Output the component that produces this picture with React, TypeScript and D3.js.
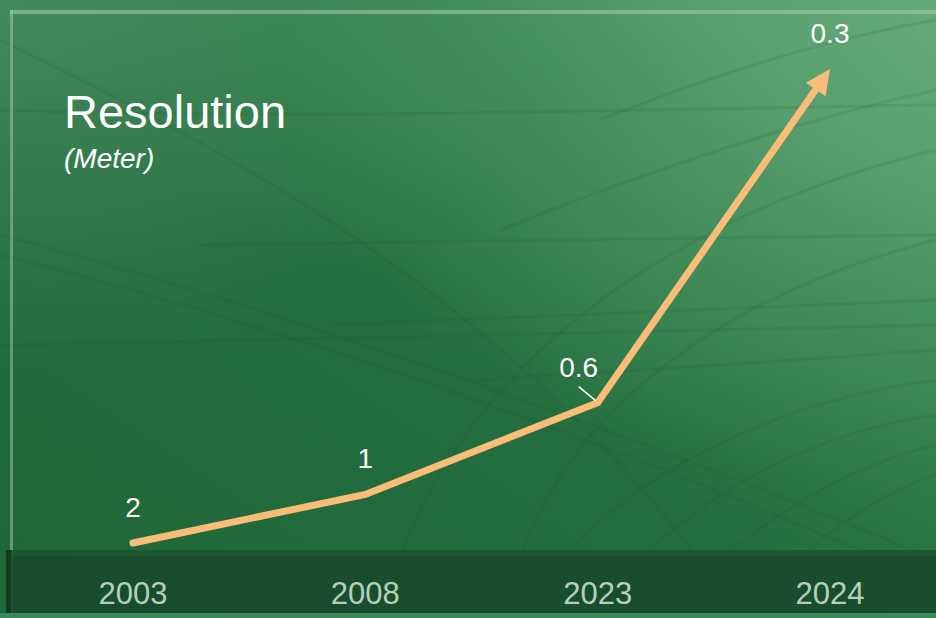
import React from 'react';
import * as d3 from 'd3';

const years = ['2003', '2008', '2023', '2024'];
const resolution = [2, 1, 0.6, 0.3];
const valueLabels = ['2', '1', '0.6', '0.3'];
const title = 'Resolution';
const unit = '(Meter)';

const W = 936;
const H = 618;
const font = 'Arial, "Liberation Sans", sans-serif';

// faint greenhouse frame lines in the backdrop
const texture = [
  'M0,235 C250,300 600,420 936,560',
  'M0,255 C260,320 620,440 936,585',
  'M0,345 C300,340 700,330 936,325',
  'M200,245 L936,235',
  'M0,110 C300,120 600,110 936,105',
  'M330,325 L936,300',
  'M470,380 C650,370 800,360 936,350',
  'M560,560 C640,470 780,400 936,380',
  'M640,560 C720,480 830,430 936,415',
  'M720,560 C790,500 870,460 936,445',
  'M800,560 C840,520 890,490 936,475',
  'M0,40 C250,160 500,300 700,560',
  'M520,560 C560,430 700,300 936,240',
  'M400,560 C460,380 650,220 936,150',
  'M600,120 C700,80 820,40 936,20',
  'M500,230 C650,170 800,120 936,90',
];

export default function App() {
  const x = d3.scalePoint<string>().domain(years).range([133, 830]);
  // finer resolution sits higher: plot 1 / metres on a power scale
  const y = d3
    .scalePow()
    .exponent(1.6)
    .domain([1 / (d3.max(resolution) as number), 1 / (d3.min(resolution) as number)])
    .range([543, 69]);

  const pts: [number, number][] = years.map((yr, i) => [x(yr) as number, y(1 / resolution[i])]);

  // arrow head on the last segment
  const tip = pts[pts.length - 1];
  const prev = pts[pts.length - 2];
  const dx = tip[0] - prev[0];
  const dy = tip[1] - prev[1];
  const len = Math.hypot(dx, dy);
  const ux = dx / len;
  const uy = dy / len;
  const headLen = 25;
  const headHalf = 12;
  const lineEnd: [number, number] = [tip[0] - ux * (headLen - 4), tip[1] - uy * (headLen - 4)];
  const head = [
    [tip[0], tip[1]],
    [tip[0] - ux * headLen - uy * headHalf, tip[1] - uy * headLen + ux * headHalf],
    [tip[0] - ux * headLen + uy * headHalf, tip[1] - uy * headLen - ux * headHalf],
  ];
  const linePath = d3.line()([...pts.slice(0, -1), lineEnd]) as string;

  return (
    <svg width={W} height={H} style={{ position: 'absolute', left: 0, top: 0 }}>
      <defs>
        <linearGradient id="bg" x1="0" y1="1" x2="1" y2="0">
          <stop offset="0" stopColor="#1f6737" />
          <stop offset="0.45" stopColor="#246d3e" />
          <stop offset="0.75" stopColor="#3a8652" />
          <stop offset="1" stopColor="#63a877" />
        </linearGradient>
        <radialGradient id="glowTL" cx="0" cy="0" r="0.6">
          <stop offset="0" stopColor="#4a9163" stopOpacity="0.8" />
          <stop offset="1" stopColor="#4a9163" stopOpacity="0" />
        </radialGradient>
        <radialGradient id="glowR" cx="1" cy="0.1" r="0.7">
          <stop offset="0" stopColor="#65aa78" stopOpacity="0.7" />
          <stop offset="1" stopColor="#65aa78" stopOpacity="0" />
        </radialGradient>
      </defs>

      <rect width={W} height={H} fill="url(#bg)" />
      <rect width={W} height={H} fill="url(#glowTL)" />
      <rect width={W} height={H} fill="url(#glowR)" />

      <g fill="none" stroke="#15522a" strokeOpacity={0.12} strokeWidth={3}>
        {texture.map((d, i) => (
          <path key={i} d={d} />
        ))}
      </g>

      {/* frame lines */}
      <rect x={10} y={10} width={W - 10} height={4} fill="#a6cdb1" opacity={0.55} />
      <rect x={10} y={10} width={3} height={H - 12} fill="#a6cdb1" opacity={0.5} />

      {/* bottom band */}
      <rect x={6} y={550} width={W - 6} height={63} fill="#18492a" opacity={0.85} />
      <rect x={6} y={550} width={W - 6} height={6} fill="#1f5a32" opacity={0.7} />
      <rect x={6} y={550} width={5} height={63} fill="#123a20" />
      <rect x={0} y={613} width={W} height={5} fill="#3c8856" />

      {years.map((yr) => (
        <text
          key={yr}
          x={x(yr)}
          y={604}
          textAnchor="middle"
          fontFamily={font}
          fontSize={31}
          fill="#b6cfbb"
        >
          {yr}
        </text>
      ))}

      <text x={64} y={128} fontFamily={font} fontSize={47} fill="#ffffff">
        {title}
      </text>
      <text x={64} y={168} fontFamily={font} fontSize={28} fontStyle="italic" fill="#ffffff">
        {unit}
      </text>

      <path
        d={linePath}
        fill="none"
        stroke="#f9bd78"
        strokeWidth={7}
        strokeLinecap="round"
        strokeLinejoin="miter"
      />
      <polygon points={head.map((p) => p.join(',')).join(' ')} fill="#f9bd78" />

      {pts.map((p, i) => {
        const leader = i === 2;
        return (
          <g key={years[i]}>
            <text
              x={p[0] - (leader ? 19 : 0)}
              y={p[1] - 26}
              textAnchor="middle"
              fontFamily={font}
              fontSize={28}
              fill="#ffffff"
            >
              {valueLabels[i]}
            </text>
            {leader && (
              <line
                x1={p[0] - 19}
                y1={p[1] - 16}
                x2={p[0] - 2}
                y2={p[1] - 2}
                stroke="#ffffff"
                strokeWidth={1.5}
              />
            )}
          </g>
        );
      })}
    </svg>
  );
}
